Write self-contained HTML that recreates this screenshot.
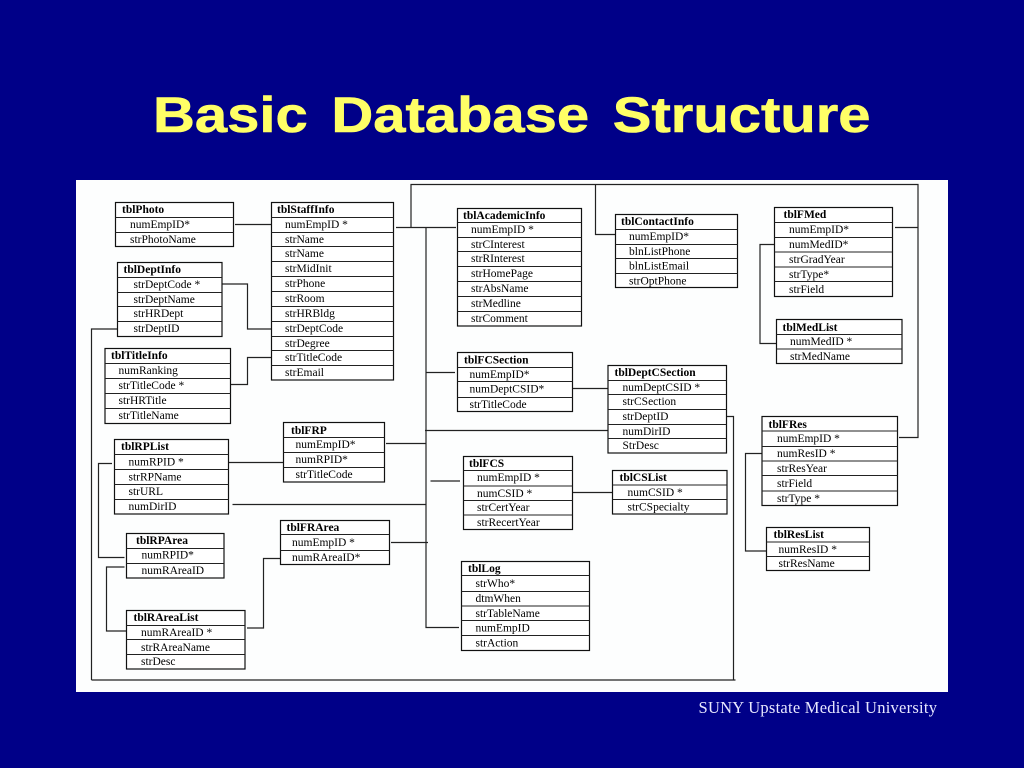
<!DOCTYPE html>
<html><head><meta charset="utf-8"><title>Basic Database Structure</title>
<style>
html,body{margin:0;padding:0;background:#000088;width:1024px;height:768px;overflow:hidden}
svg{position:absolute;left:0;top:0;display:block}
text{font-family:"Liberation Serif",serif;font-size:11.5px;fill:#000}
.t{font-weight:bold;fill:#000}
.b{fill:#fff;stroke:#111;stroke-width:1.2}
.l{fill:none;stroke:#222;stroke-width:1.1}
.c{fill:none;stroke:#222;stroke-width:1.2}
.h{font-family:"Liberation Sans",sans-serif;font-weight:bold;font-size:50px;fill:#ffff66;stroke:#ffff66;stroke-width:.6px;word-spacing:6.5px}
.f{font-size:16.5px;fill:#e8e8ff}
.d{filter:blur(.3px)}
</style></head><body>
<svg width="1024" height="768" viewBox="0 0 1024 768" xmlns="http://www.w3.org/2000/svg">
<rect width="1024" height="768" fill="#000088"/>
<text class="h" transform="translate(153,132) scale(1.16,1)">Basic Database Structure</text>
<rect x="76" y="180" width="872" height="512" fill="#fdfefe"/>
<text class="f" x="698.5" y="713" textLength="238.5" lengthAdjust="spacing">SUNY Upstate Medical University</text>

<g class="d">
<!-- connectors -->
<path class="c" d="M235 224.5H271M396 227.5H456M411 227.5V184.5H918V437.5H899M895 227.5H918M595.5 184.5V234.5H615M426 227.5V627.5H459M426 372.5H455M425 430.5H608M386 443.5H426M232.5 504.5H426M391 542.5H428M430.5 481H460M572 388.5H608M572 492.5H612M726 416.5H733.5V680M91.5 680H735.5M91.5 680V329H117M221 284H247.5V329H271M230.5 384.5H247.5V357.5H271M112 463.5H98.5V557.5H124.5M124.5 567H106.5V631H126M227.5 462.5H283M247 628H263.5V558.5H280M774 244.5H760V343.5H776M762 453.5H745.5V551H766"/>

<!-- tblPhoto -->
<rect class="b" x="115.5" y="202.5" width="118" height="44"/>
<path class="l" d="M115.5 217.5H233.5M115.5 232.5H233.5"/>
<text class="t" x="122" y="213">tblPhoto</text>
<text x="130" y="228">numEmpID*</text><text x="130" y="243">strPhotoName</text>

<!-- tblStaffInfo -->
<rect class="b" x="271.5" y="202.5" width="122" height="177.5"/>
<path class="l" d="M271.5 217.5H393.5M271.5 232.5H393.5M271.5 246.5H393.5M271.5 261.5H393.5M271.5 276.5H393.5M271.5 291.5H393.5M271.5 306.5H393.5M271.5 321.5H393.5M271.5 336.5H393.5M271.5 350.5H393.5M271.5 365.5H393.5"/>
<text class="t" x="277" y="213">tblStaffInfo</text>
<text x="285" y="228">numEmpID *</text><text x="285" y="243">strName</text><text x="285" y="257">strName</text><text x="285" y="272">strMidInit</text><text x="285" y="287">strPhone</text><text x="285" y="302">strRoom</text><text x="285" y="317">strHRBldg</text><text x="285" y="332">strDeptCode</text><text x="285" y="347">strDegree</text><text x="285" y="361">strTitleCode</text><text x="285" y="376">strEmail</text>

<!-- tblDeptInfo -->
<rect class="b" x="117.5" y="262.5" width="104.5" height="74"/>
<path class="l" d="M117.5 277.5H222M117.5 292.5H222M117.5 306.5H222M117.5 321.5H222"/>
<text class="t" x="123.5" y="273">tblDeptInfo</text>
<text x="133.5" y="288">strDeptCode *</text><text x="133.5" y="303">strDeptName</text><text x="133.5" y="317">strHRDept</text><text x="133.5" y="332">strDeptID</text>

<!-- tblTitleInfo -->
<rect class="b" x="105" y="348.5" width="125.5" height="75"/>
<path class="l" d="M105 363.5H230.5M105 378.5H230.5M105 393.5H230.5M105 408.5H230.5"/>
<text class="t" x="111" y="359">tblTitleInfo</text>
<text x="118.5" y="374">numRanking</text><text x="118.5" y="389">strTitleCode *</text><text x="118.5" y="404">strHRTitle</text><text x="118.5" y="419">strTitleName</text>

<!-- tblRPList -->
<rect class="b" x="114.5" y="439.5" width="114" height="74.5"/>
<path class="l" d="M114.5 454.5H228.5M114.5 469.5H228.5M114.5 484.5H228.5M114.5 499.5H228.5"/>
<text class="t" x="121" y="450">tblRPList</text>
<text x="128.5" y="465.5">numRPID *</text><text x="128.5" y="480.5">strRPName</text><text x="128.5" y="495">strURL</text><text x="128.5" y="510">numDirID</text>

<!-- tblFRP -->
<rect class="b" x="283.5" y="422.5" width="101" height="59.5"/>
<path class="l" d="M283.5 437.5H384.5M283.5 452.5H384.5M283.5 467.5H384.5"/>
<text class="t" x="291" y="434">tblFRP</text>
<text x="295.5" y="448">numEmpID*</text><text x="295.5" y="463">numRPID*</text><text x="295.5" y="478">strTitleCode</text>

<!-- tblRPArea -->
<rect class="b" x="126.5" y="533.5" width="97.5" height="44.5"/>
<path class="l" d="M126.5 548.5H224M126.5 563.5H224"/>
<text class="t" x="136" y="544">tblRPArea</text>
<text x="141.5" y="558.5">numRPID*</text><text x="141.5" y="574">numRAreaID</text>

<!-- tblFRArea -->
<rect class="b" x="280.5" y="520.5" width="109" height="44"/>
<path class="l" d="M280.5 534.5H389.5M280.5 550.5H389.5"/>
<text class="t" x="286.5" y="531">tblFRArea</text>
<text x="292" y="546">numEmpID *</text><text x="292" y="561">numRAreaID*</text>

<!-- tblRAreaList -->
<rect class="b" x="126.5" y="610.5" width="118.5" height="58.5"/>
<path class="l" d="M126.5 625.5H245M126.5 639.5H245M126.5 654.5H245"/>
<text class="t" x="133.5" y="621">tblRAreaList</text>
<text x="141" y="636">numRAreaID *</text><text x="141" y="651">strRAreaName</text><text x="141" y="665">strDesc</text>

<!-- tblAcademicInfo -->
<rect class="b" x="457.5" y="208.5" width="124" height="117.5"/>
<path class="l" d="M457.5 222.5H581.5M457.5 237.5H581.5M457.5 251.5H581.5M457.5 266.5H581.5M457.5 281.5H581.5M457.5 296.5H581.5M457.5 311.5H581.5"/>
<text class="t" x="463" y="219">tblAcademicInfo</text>
<text x="471" y="233">numEmpID *</text><text x="471" y="248">strCInterest</text><text x="471" y="262">strRInterest</text><text x="471" y="277">strHomePage</text><text x="471" y="292">strAbsName</text><text x="471" y="307">strMedline</text><text x="471" y="322">strComment</text>

<!-- tblContactInfo -->
<rect class="b" x="615.5" y="214.5" width="122" height="73"/>
<path class="l" d="M615.5 229.5H737.5M615.5 244.5H737.5M615.5 258.5H737.5M615.5 273.5H737.5"/>
<text class="t" x="621" y="225">tblContactInfo</text>
<text x="629" y="240">numEmpID*</text><text x="629" y="255">blnListPhone</text><text x="629" y="269.5">blnListEmail</text><text x="629" y="284.5">strOptPhone</text>

<!-- tblFCSection -->
<rect class="b" x="457.5" y="352.5" width="115" height="59"/>
<path class="l" d="M457.5 367.5H572.5M457.5 381.5H572.5M457.5 397.5H572.5"/>
<text class="t" x="464" y="363.5">tblFCSection</text>
<text x="469.5" y="378">numEmpID*</text><text x="469.5" y="392.5">numDeptCSID*</text><text x="469.5" y="408">strTitleCode</text>

<!-- tblDeptCSection -->
<rect class="b" x="608" y="365.5" width="118.5" height="87.5"/>
<path class="l" d="M608 380.5H726.5M608 394.5H726.5M608 409.5H726.5M608 424.5H726.5M608 438.5H726.5"/>
<text class="t" x="614.5" y="376">tblDeptCSection</text>
<text x="622.5" y="391">numDeptCSID *</text><text x="622.5" y="405">strCSection</text><text x="622.5" y="420">strDeptID</text><text x="622.5" y="435">numDirID</text><text x="622.5" y="449">StrDesc</text>

<!-- tblFCS -->
<rect class="b" x="463.5" y="456.5" width="109" height="73"/>
<path class="l" d="M463.5 470.5H572.5M463.5 486H572.5M463.5 500.5H572.5M463.5 515H572.5"/>
<text class="t" x="469" y="467">tblFCS</text>
<text x="477" y="481">numEmpID *</text><text x="477" y="497">numCSID *</text><text x="477" y="511">strCertYear</text><text x="477" y="526">strRecertYear</text>

<!-- tblCSList -->
<rect class="b" x="612.5" y="470.5" width="114.5" height="43.5"/>
<path class="l" d="M612.5 485H727M612.5 499.5H727"/>
<text class="t" x="619.5" y="481">tblCSList</text>
<text x="627.5" y="496">numCSID *</text><text x="627.5" y="510.5">strCSpecialty</text>

<!-- tblLog -->
<rect class="b" x="461.5" y="561.5" width="128" height="89"/>
<path class="l" d="M461.5 575.5H589.5M461.5 591.5H589.5M461.5 606H589.5M461.5 620.5H589.5M461.5 635.5H589.5"/>
<text class="t" x="468" y="572">tblLog</text>
<text x="475.5" y="587">strWho*</text><text x="475.5" y="602">dtmWhen</text><text x="475.5" y="617">strTableName</text><text x="475.5" y="631.5">numEmpID</text><text x="475.5" y="646.5">strAction</text>

<!-- tblFMed -->
<rect class="b" x="774.5" y="207.5" width="118" height="89"/>
<path class="l" d="M774.5 222.5H892.5M774.5 237.5H892.5M774.5 252H892.5M774.5 267H892.5M774.5 281.5H892.5"/>
<text class="t" x="783.5" y="218">tblFMed</text>
<text x="789" y="233">numEmpID*</text><text x="789" y="248">numMedID*</text><text x="789" y="263">strGradYear</text><text x="789" y="278">strType*</text><text x="789" y="293">strField</text>

<!-- tblMedList -->
<rect class="b" x="776.5" y="319.5" width="125.5" height="44"/>
<path class="l" d="M776.5 334.5H902M776.5 349H902"/>
<text class="t" x="782.5" y="331">tblMedList</text>
<text x="790" y="345">numMedID *</text><text x="790" y="360">strMedName</text>

<!-- tblFRes -->
<rect class="b" x="762" y="416.5" width="135.5" height="89"/>
<path class="l" d="M762 431H897.5M762 446.5H897.5M762 461H897.5M762 475.5H897.5M762 491H897.5"/>
<text class="t" x="768.5" y="428">tblFRes</text>
<text x="777" y="442">numEmpID *</text><text x="777" y="457">numResID *</text><text x="777" y="472">strResYear</text><text x="777" y="487">strField</text><text x="777" y="502">strType *</text>

<!-- tblResList -->
<rect class="b" x="766.5" y="527.5" width="103" height="43"/>
<path class="l" d="M766.5 542H869.5M766.5 556.5H869.5"/>
<text class="t" x="773.5" y="538">tblResList</text>
<text x="778.5" y="553">numResID *</text><text x="778.5" y="567">strResName</text>
</g>
</svg>
</body></html>
